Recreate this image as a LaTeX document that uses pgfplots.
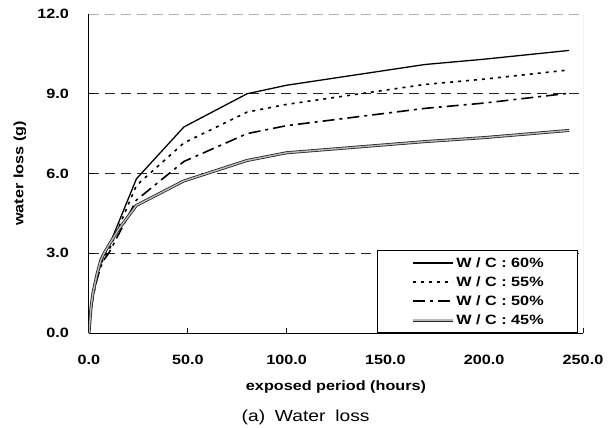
\documentclass[border=0pt]{standalone}
\usepackage{fontspec}
\setmainfont{Liberation Sans}[FakeStretch=1.2]
\usepackage{pgfplots}
\pgfplotsset{compat=1.18}
\newcommand{\bigfont}{\fontsize{13.5bp}{15bp}\selectfont}
\begin{document}
\begin{tikzpicture}
\path[use as bounding box] (-89bp,-95bp) rectangle (523bp,333bp);
\begin{axis}[
  scale only axis, width=494bp, height=319bp,
  xmin=0, xmax=250, ymin=0, ymax=12,
  xtick={0,50,100,150,200,250},
  ytick={0,3,6,9},
  extra y ticks={12},
  extra y tick style={grid style={gray!60, line width=0.9bp, dash pattern=on 10bp off 6bp}, ytick style={draw=none}},
  ymajorgrids,
  grid style={black!85, line width=0.8bp, dash pattern=on 10bp off 6bp},
  axis x line*=bottom, axis y line*=left,
  axis line style={-, black, line width=1bp},
  tick align=inside,
  tick style={black, line width=1bp},
  major tick length=5bp,
  ticklabel style={font=\bigfont\bfseries},
  /pgf/number format/.cd, fixed, fixed zerofill, precision=1, assume math mode=true,
  /pgfplots/.cd,
  yticklabel style={anchor=east, inner sep=0pt, xshift=-20bp},
  xticklabel style={anchor=center, inner sep=0pt, yshift=-27bp},
  xlabel={exposed period (hours)},
  ylabel={water loss (g)},
  label style={font=\bigfont\bfseries},
  xlabel style={at={(axis description cs:0.5,0)}, anchor=center, yshift=-54bp},
  ylabel style={at={(axis description cs:0,0.5)}, anchor=center, yshift=69bp},
  legend image code/.code={\draw[#1] (0bp,0bp) -- (40bp,0bp);},
  legend style={at={(rel axis cs:0.99,0)}, anchor=south east, draw=black, line width=0.8bp,
    fill=white, inner xsep=34bp, inner ysep=7bp, row sep=8bp, column sep=2bp,
    font=\bigfont\bfseries,
    nodes={inner sep=0pt, text height=10bp, text depth=1bp}},
  legend cell align=left,
]
\draw[gray!60, line width=0.9bp] (rel axis cs:1,0) -- (rel axis cs:1,1);
\addplot[black, line width=1.3bp] coordinates {
(0,0) (1,0.9) (2,1.4) (4,2.1) (6,2.65) (8,3.0) (10,3.25) (24,5.8) (48,7.75) (80,9.0) (100,9.32) (170,10.1) (200,10.3) (243,10.63)};
\addlegendentry{W / C : 60\%}
\addplot[black, line width=1.6bp, dash pattern=on 3bp off 5bp] coordinates {
(0,0) (1,0.9) (2,1.4) (4,2.1) (6,2.6) (8,2.9) (10,3.1) (24,5.55) (48,7.15) (80,8.31) (100,8.6) (170,9.35) (200,9.55) (241,9.88)};
\addlegendentry{W / C : 55\%}
\addplot[black, line width=1.6bp, dash pattern=on 12bp off 5bp on 3bp off 5bp] coordinates {
(0,0) (1,0.85) (2,1.35) (4,2.0) (6,2.5) (8,2.8) (10,3.0) (24,5.0) (48,6.45) (80,7.5) (100,7.8) (170,8.45) (200,8.65) (243,9.02)};
\addlegendentry{W / C : 50\%}
\addplot[black!85, line width=0.8bp, double=gray!55, double distance=1.4bp] coordinates {
(0,0) (1,0.95) (2,1.5) (4,2.2) (6,2.75) (8,3.05) (10,3.3) (15,3.9) (24,4.8) (48,5.72) (80,6.49) (100,6.78) (170,7.2) (200,7.35) (243,7.62)};
\addlegendentry{W / C : 45\%}
\end{axis}
\node[font=\fontsize{16bp}{18bp}\selectfont, anchor=base west, inner sep=0pt] at (152.5bp,-88bp) {(a)\hspace{4.5bp} Water\hspace{4.5bp} loss};
\end{tikzpicture}
\end{document}
